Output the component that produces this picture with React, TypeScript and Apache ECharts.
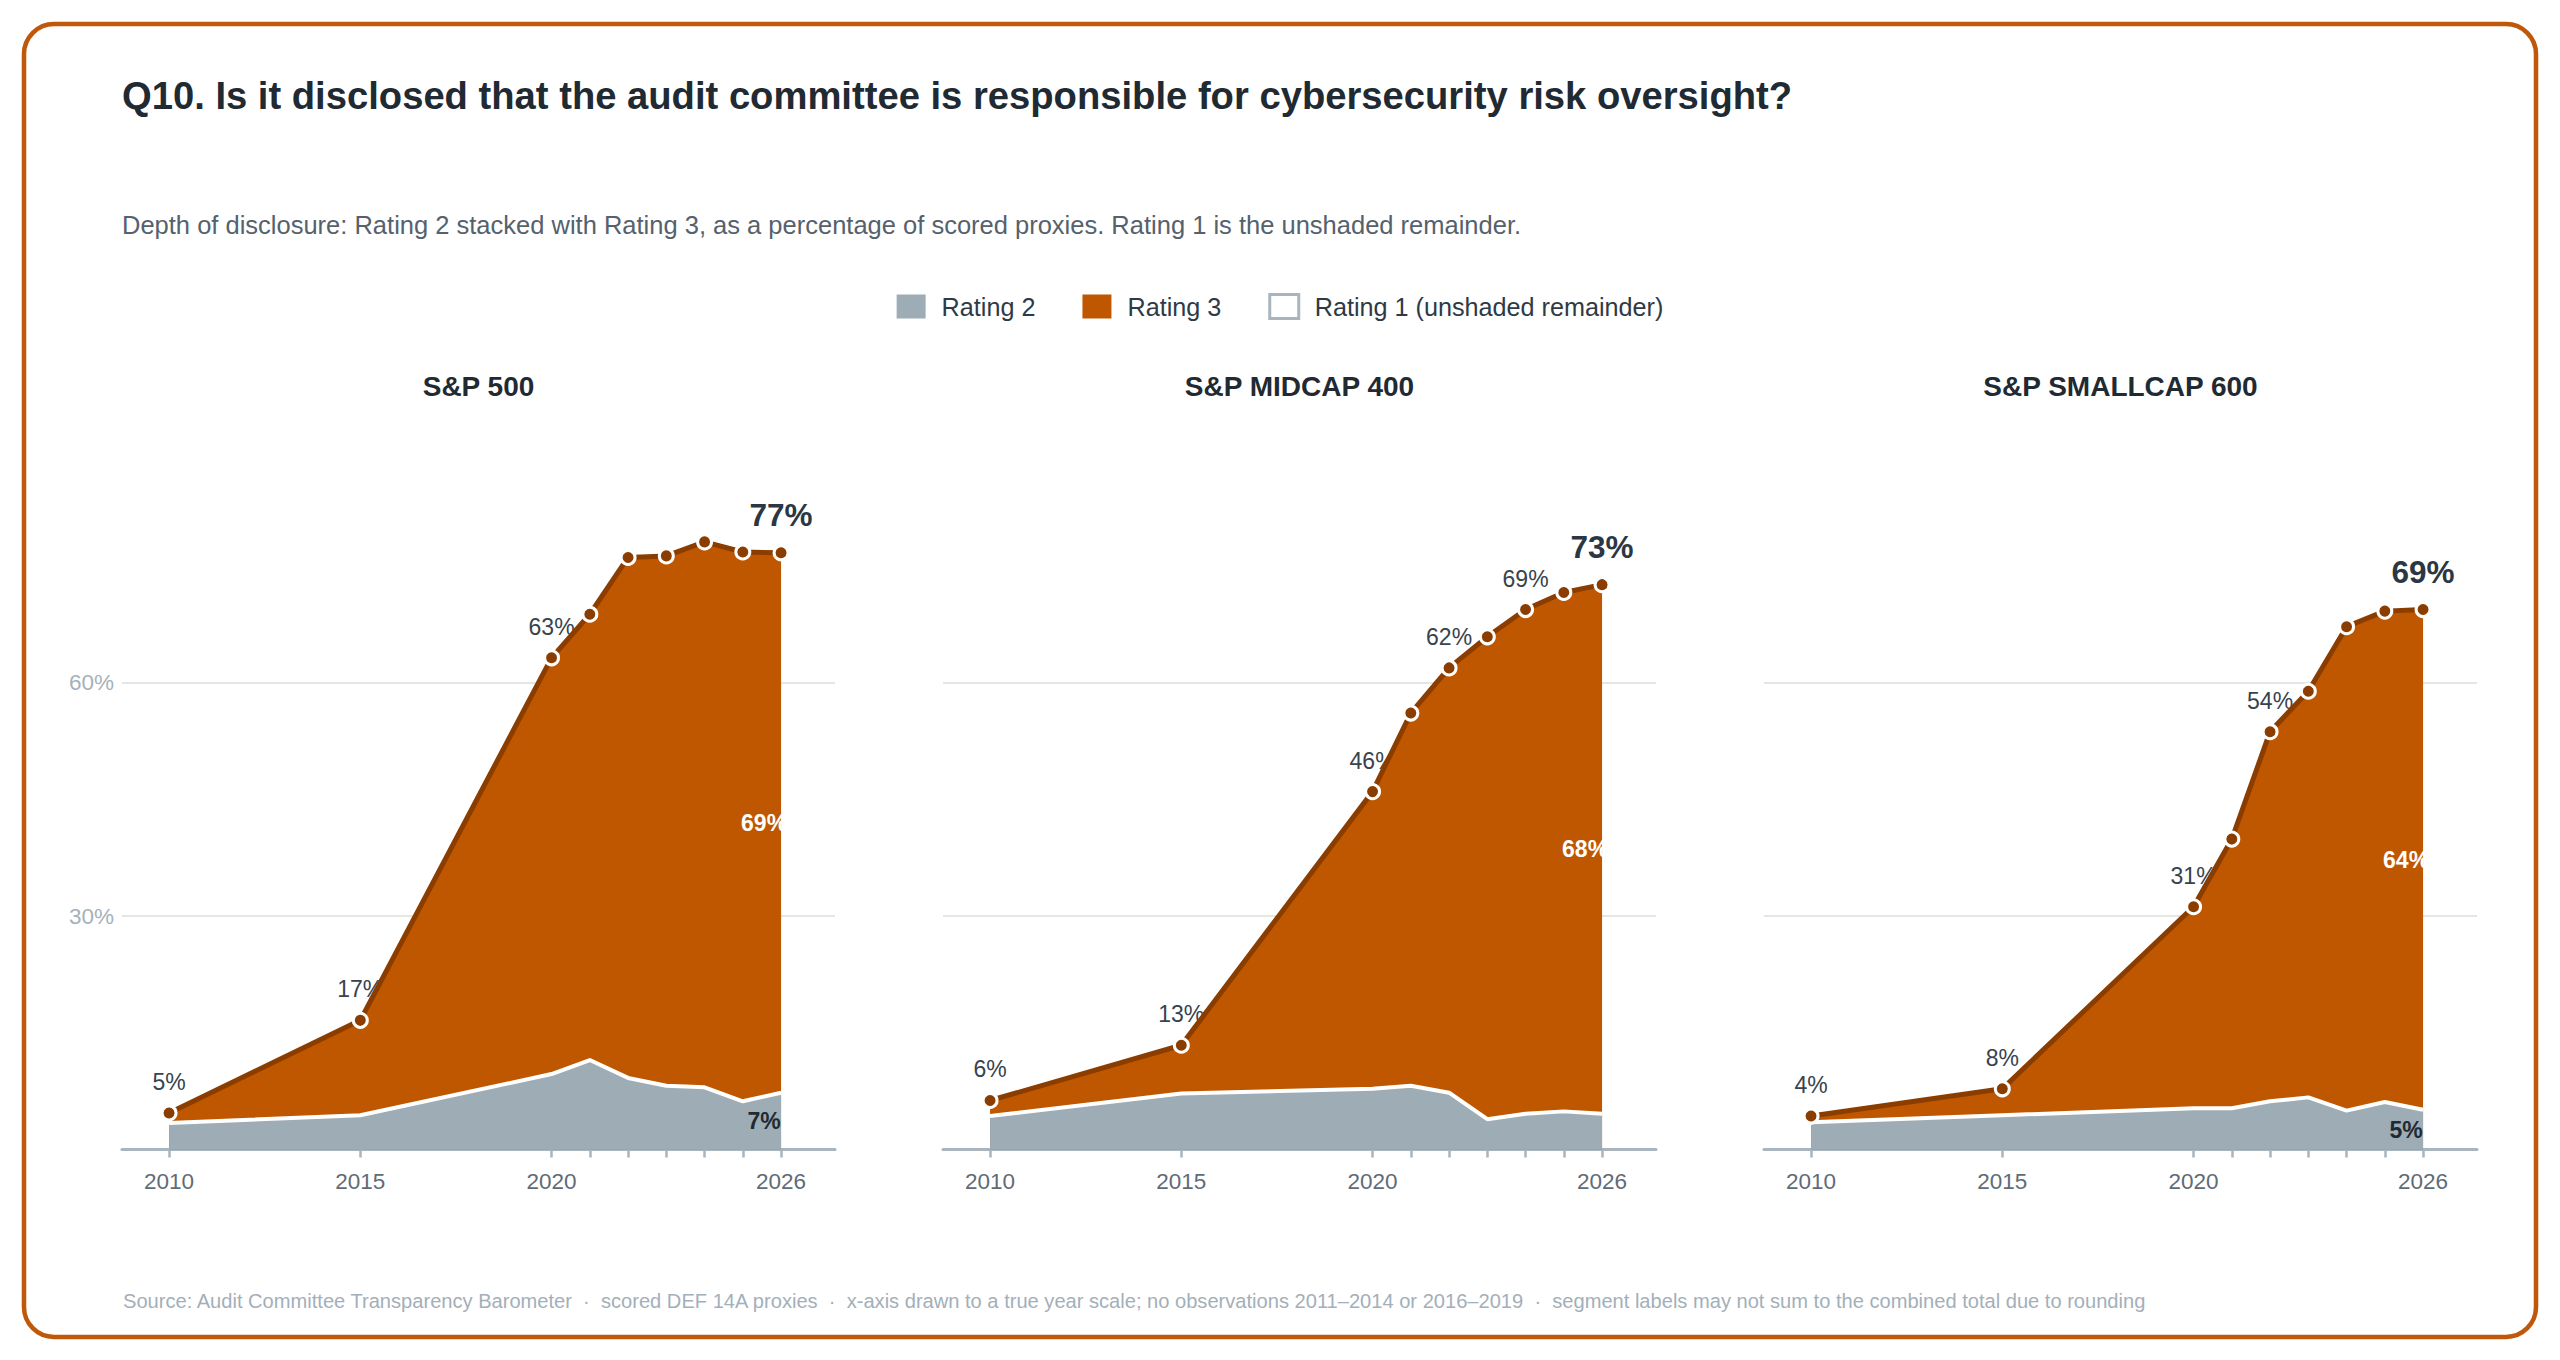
import React, { useEffect, useRef } from 'react';
import * as echarts from 'echarts';

// ---------- data ----------
const YEARS = [2010, 2015, 2020, 2021, 2022, 2023, 2024, 2025, 2026];
const X_LABEL_YEARS = [2010, 2015, 2020, 2026];
const PANEL_TITLES = ['S&P 500', 'S&P MIDCAP 400', 'S&P SMALLCAP 600'];

const SP500_RATING2 = [3.4, 4.4, 9.7, 11.5, 9.2, 8.2, 8.0, 6.2, 7.3];
const SP500_RATING3 = [1.3, 12.2, 53.5, 57.3, 66.9, 68.1, 70.1, 70.6, 69.4];
const MIDCAP_RATING2 = [4.3, 7.2, 7.8, 8.2, 7.3, 3.9, 4.6, 4.9, 4.6];
const MIDCAP_RATING3 = [2.0, 6.2, 38.2, 47.9, 54.6, 62.0, 64.8, 66.7, 68.0];
const SMALLCAP_RATING2 = [3.5, 4.4, 5.3, 5.3, 6.2, 6.7, 5.0, 6.1, 5.1];
const SMALLCAP_RATING3 = [0.8, 3.4, 25.9, 34.6, 47.5, 52.2, 62.2, 63.1, 64.3];

const SP500_LABEL_YEARS = [2010, 2015, 2020];
const MIDCAP_LABEL_YEARS = [2010, 2015, 2020, 2022, 2024];
const SMALLCAP_LABEL_YEARS = [2010, 2015, 2020, 2022];

const Y_TICK_INTERVAL = 30;
const MIN_SEGMENT_LABEL = 5;

const TITLE = 'Q10. Is it disclosed that the audit committee is responsible for cybersecurity risk oversight?';
const SUBTITLE =
  'Depth of disclosure: Rating 2 stacked with Rating 3, as a percentage of scored proxies. Rating 1 is the unshaded remainder.';
const FOOTER =
  'Source: Audit Committee Transparency Barometer  \u00b7  scored DEF 14A proxies  \u00b7  x-axis drawn to a true year scale; no observations 2011\u20132014 or 2016\u20132019  \u00b7  segment labels may not sum to the combined total due to rounding';

const LEGEND_R2 = 'Rating 2';
const LEGEND_R3 = 'Rating 3';
const LEGEND_R1 = 'Rating 1 (unshaded remainder)';

// ---------- styles ----------
const FONT = '"Liberation Sans", Arial, Helvetica, sans-serif';
const ORANGE = '#bf5700';
const DARK_ORANGE = '#8b3d00';
const GRAY = '#9eacb5';
const AXIS_GRAY = '#a8b4be';
const TEXT_DARK = '#1f2a33';
const CLEAR = 'rgba(0,0,0,0)';

const W = 2560;
const H = 1360;
const GRID_LEFT0 = 122;
const GRID_STEP = 821;
const GRID_W = 713;
const BASE_Y = 1149.5;
const PX_PER_PCT = 7.78;
const Y_MAX = 85;
const X_MIN = 2008.77;
const X_MAX = 2027.41;

const PANELS = [
  { r2: SP500_RATING2, r3: SP500_RATING3, labels: SP500_LABEL_YEARS },
  { r2: MIDCAP_RATING2, r3: MIDCAP_RATING3, labels: MIDCAP_LABEL_YEARS },
  { r2: SMALLCAP_RATING2, r3: SMALLCAP_RATING3, labels: SMALLCAP_LABEL_YEARS },
];

function buildOption() {
  const gridTop = BASE_Y - Y_MAX * PX_PER_PCT;
  const grids: any[] = [];
  const xAxes: any[] = [];
  const yAxes: any[] = [];
  const series: any[] = [];
  const titles: any[] = [
    {
      text: TITLE,
      left: 122,
      top: 76,
      padding: 0,
      textStyle: { fontSize: 38.2, fontWeight: 'bold', color: TEXT_DARK, fontFamily: FONT },
    },
    {
      text: SUBTITLE,
      left: 122,
      top: 212,
      padding: 0,
      textStyle: { fontSize: 25.5, fontWeight: 'normal', color: '#55616c', fontFamily: FONT },
    },
  ];

  PANELS.forEach((p, i) => {
    const left = GRID_LEFT0 + GRID_STEP * i;
    grids.push({
      left,
      top: gridTop,
      width: GRID_W,
      height: BASE_Y - gridTop,
      containLabel: false,
      outerBoundsMode: 'none',
    });
    titles.push({
      text: PANEL_TITLES[i],
      left: left + GRID_W / 2,
      top: 372.5,
      padding: 0,
      textAlign: 'center',
      textStyle: { fontSize: 28, fontWeight: 'bold', color: TEXT_DARK, fontFamily: FONT },
    });
    xAxes.push({
      type: 'value',
      gridIndex: i,
      min: X_MIN,
      max: X_MAX,
      splitLine: { show: false },
      axisLine: { show: true, onZero: true, lineStyle: { color: AXIS_GRAY, width: 3 } },
      axisTick: {
        show: true,
        customValues: YEARS,
        length: 8,
        lineStyle: { color: AXIS_GRAY, width: 2.5 },
      },
      axisLabel: {
        show: true,
        customValues: X_LABEL_YEARS,
        formatter: (v: number) => String(Math.round(v)),
        color: '#5f6b76',
        fontSize: 22.5,
        fontFamily: FONT,
        margin: 20,
      },
    });
    yAxes.push({
      type: 'value',
      gridIndex: i,
      min: 0,
      max: Y_MAX,
      interval: Y_TICK_INTERVAL,
      axisLine: { show: false },
      axisTick: { show: false },
      splitLine: {
        show: true,
        showMinLine: false,
        showMaxLine: false,
        lineStyle: { color: '#e6e6e1', width: 2 },
      },
      axisLabel: {
        show: i === 0,
        showMaxLabel: false,
        formatter: (v: number) => (v === 0 || v % Y_TICK_INTERVAL !== 0 ? '' : v + '%'),
        color: '#a5b1bb',
        fontSize: 22.5,
        fontFamily: FONT,
        margin: 8,
      },
    });

    const totals = YEARS.map((y, k) => [y, p.r2[k] + p.r3[k]]);
    const r2Data = YEARS.map((y, k) => [y, p.r2[k]]);
    const lastK = YEARS.length - 1;
    const lastYear = YEARS[lastK];

    // total (Rating 2 + Rating 3) orange area
    series.push({
      name: LEGEND_R3,
      type: 'line',
      xAxisIndex: i,
      yAxisIndex: i,
      data: totals,
      symbol: 'none',
      silent: true,
      z: 2,
      lineStyle: { width: 0, color: ORANGE },
      itemStyle: { color: ORANGE },
      areaStyle: { color: ORANGE, opacity: 1 },
    });
    // Rating 2 gray area with white top line
    series.push({
      name: LEGEND_R2,
      type: 'line',
      xAxisIndex: i,
      yAxisIndex: i,
      data: r2Data,
      symbol: 'none',
      silent: true,
      z: 3,
      lineStyle: { width: 4, color: '#ffffff' },
      itemStyle: { color: GRAY },
      areaStyle: { color: GRAY, opacity: 1 },
    });
    // point labels (drawn beneath the line)
    series.push({
      name: 'point-labels-' + i,
      type: 'scatter',
      xAxisIndex: i,
      yAxisIndex: i,
      silent: true,
      z: 1,
      symbolSize: 2,
      itemStyle: { color: CLEAR },
      data: totals.filter((d) => p.labels.includes(d[0])),
      label: {
        show: true,
        opacity: 1,
        position: 'inside',
        offset: [0, -31],
        formatter: (prm: any) => Math.round(prm.value[1]) + '%',
        color: '#37434e',
        fontSize: 23,
        fontFamily: FONT,
      },
    });
    // combined line + markers
    series.push({
      name: 'combined-' + i,
      type: 'line',
      xAxisIndex: i,
      yAxisIndex: i,
      data: totals,
      silent: true,
      z: 5,
      symbol: 'circle',
      symbolSize: 14,
      showAllSymbol: true,
      lineStyle: { width: 5, color: DARK_ORANGE },
      itemStyle: { color: DARK_ORANGE, borderColor: '#ffffff', borderWidth: 3 },
    });
    // final combined total label
    series.push({
      name: 'final-label-' + i,
      type: 'scatter',
      xAxisIndex: i,
      yAxisIndex: i,
      silent: true,
      z: 6,
      symbolSize: 2,
      itemStyle: { color: CLEAR },
      data: [totals[lastK]],
      label: {
        show: true,
        opacity: 1,
        position: 'inside',
        offset: [0, -38],
        formatter: (prm: any) => Math.round(prm.value[1]) + '%',
        color: '#2b3742',
        fontSize: 31.5,
        fontWeight: 'bold',
        fontFamily: FONT,
      },
    });
    // segment labels at the last year
    const segData: any[] = [
      {
        value: [lastYear, p.r2[lastK] + p.r3[lastK] / 2, p.r3[lastK]],
        label: { color: '#ffffff' },
      },
    ];
    if (p.r2[lastK] >= MIN_SEGMENT_LABEL) {
      segData.push({
        value: [lastYear, p.r2[lastK] / 2, p.r2[lastK]],
        label: { color: '#1f2a33' },
      });
    }
    series.push({
      name: 'segment-labels-' + i,
      type: 'scatter',
      xAxisIndex: i,
      yAxisIndex: i,
      silent: true,
      z: 6,
      symbolSize: 2,
      itemStyle: { color: CLEAR },
      data: segData,
      label: {
        show: true,
        opacity: 1,
        position: 'inside',
        offset: [-17, 0],
        formatter: (prm: any) => Math.round(prm.value[2]) + '%',
        fontSize: 23,
        fontWeight: 'bold',
        fontFamily: FONT,
      },
    });
  });

  // dummy series for the unshaded remainder legend entry
  series.push({
    name: LEGEND_R1,
    type: 'line',
    xAxisIndex: 0,
    yAxisIndex: 0,
    data: [],
    itemStyle: { color: '#ffffff', borderColor: AXIS_GRAY, borderWidth: 3 },
  });

  return {
    animation: false,
    backgroundColor: '#ffffff',
    textStyle: { fontFamily: FONT },
    title: titles,
    legend: {
      top: 293,
      left: 'center',
      padding: 0,
      itemWidth: 29,
      itemHeight: 24,
      itemGap: 47,
      selectedMode: false,
      textStyle: { fontSize: 25.2, color: '#2e3a45', fontFamily: FONT, padding: [0, 0, 0, 11] },
      data: [
        { name: LEGEND_R2, icon: 'rect', itemStyle: { color: GRAY, borderWidth: 0 } },
        { name: LEGEND_R3, icon: 'rect', itemStyle: { color: ORANGE, borderWidth: 0 } },
        {
          name: LEGEND_R1,
          icon: 'rect',
          itemStyle: { color: '#ffffff', borderColor: AXIS_GRAY, borderWidth: 3 },
        },
      ],
    },
    grid: grids,
    xAxis: xAxes,
    yAxis: yAxes,
    series,
    graphic: [
      {
        type: 'rect',
        silent: true,
        z: 10,
        shape: { x: 24, y: 24, width: 2512, height: 1313, r: 30 },
        style: { fill: 'none', stroke: '#c0580a', lineWidth: 4.5 },
      },
      {
        type: 'text',
        silent: true,
        x: 123,
        y: 1301,
        style: {
          text: FOOTER,
          font: '20.1px ' + FONT,
          fill: '#a3afb9',
          textAlign: 'left',
          textVerticalAlign: 'middle',
        },
      },
    ],
  };
}

export default function App() {
  const ref = useRef<HTMLDivElement>(null);
  useEffect(() => {
    if (!ref.current) return;
    const chart = echarts.init(ref.current, undefined, { renderer: 'svg', width: W, height: H });
    chart.setOption(buildOption());
    return () => chart.dispose();
  }, []);
  return (
    <div
      ref={ref}
      style={{ position: 'fixed', left: 0, top: 0, width: W, height: H, background: '#ffffff' }}
    />
  );
}
